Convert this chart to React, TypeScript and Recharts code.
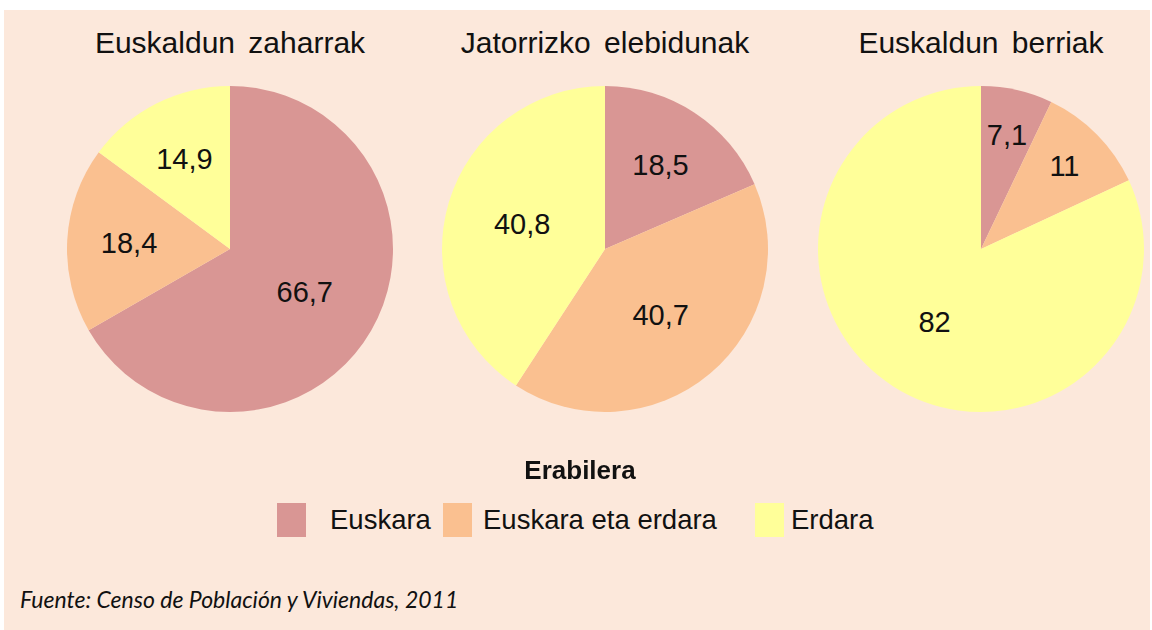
import { PieChart, Pie, Cell } from "recharts";

const categories = ["Euskara", "Euskara eta erdara", "Erdara"];
const groups = ["Euskaldun zaharrak", "Jatorrizko elebidunak", "Euskaldun berriak"];
const zaharrak = [66.7, 18.4, 14.9];
const elebidunak = [18.5, 40.7, 40.8];
const berriak = [7.1, 11, 82];
const colors = ["#D99694", "#FAC090", "#FFFF99"];

const series = [zaharrak, elebidunak, berriak];
const centers = [230, 605, 981];
const RADIAN = Math.PI / 180;
const FONT = "'Liberation Sans', Arial, sans-serif";

const toRows = (vals: number[]) => categories.map((name, i) => ({ name, value: vals[i] }));

// legend swatch / text x positions
const swatchX = [277, 443, 755];
const textX = [330, 483, 791];

const renderLabel = (p: any) => {
  const { cx, cy, midAngle, outerRadius, percent, value } = p;
  const f = percent < 0.13 ? 0.72 : percent < 0.2 ? 0.62 : 0.53;
  const r = outerRadius * f;
  const x = cx + r * Math.cos(-midAngle * RADIAN);
  const y = cy + r * Math.sin(-midAngle * RADIAN);
  return (
    <text x={x} y={y} textAnchor="middle" dominantBaseline="central" fill="#111" fontSize={29} fontFamily={FONT}>
      {String(value).replace(".", ",")}
    </text>
  );
};

export default function App() {
  return (
    <div style={{ position: "fixed", left: 0, top: 0, width: 1152, height: 630, background: "#fff", fontFamily: FONT }}>
      <div style={{ position: "absolute", left: 4, top: 10, width: 1146, height: 620, background: "#FCE8DB" }} />
      {groups.map((g, i) => (
        <div
          key={g}
          style={{
            position: "absolute",
            left: centers[i] - 200,
            width: 400,
            top: 26,
            textAlign: "center",
            fontSize: 30,
            wordSpacing: 5,
            color: "#111",
          }}
        >
          {g}
        </div>
      ))}
      <div style={{ position: "absolute", left: 0, top: 0 }}>
        <PieChart width={1152} height={440} margin={{ top: 0, right: 0, bottom: 0, left: 0 }}>
          {series.map((vals, i) => (
            <Pie
              key={groups[i]}
              data={toRows(vals)}
              dataKey="value"
              nameKey="name"
              cx={centers[i]}
              cy={249}
              outerRadius={163}
              startAngle={90}
              endAngle={-270}
              stroke="none"
              label={renderLabel}
              labelLine={false}
              isAnimationActive={false}
            >
              {vals.map((_, j) => (
                <Cell key={j} fill={colors[j]} />
              ))}
            </Pie>
          ))}
        </PieChart>
      </div>
      <div style={{ position: "absolute", left: 4, width: 1152, top: 455, textAlign: "center", fontSize: 26, fontWeight: "bold", color: "#111" }}>
        Erabilera
      </div>
      {categories.map((c, i) => (
        <div key={c}>
          <div style={{ position: "absolute", left: swatchX[i], top: 503, width: 29, height: 34, background: colors[i] }} />
          <div style={{ position: "absolute", left: textX[i], top: 504, fontSize: 27.5, lineHeight: "32px", color: "#111" }}>{c}</div>
        </div>
      ))}
      <div style={{ position: "absolute", left: 20, top: 585, fontSize: 23, fontStyle: "italic", fontFamily: "Lato, sans-serif", color: "#111" }}>
        Fuente: Censo de Población y Viviendas, 2011
      </div>
    </div>
  );
}
